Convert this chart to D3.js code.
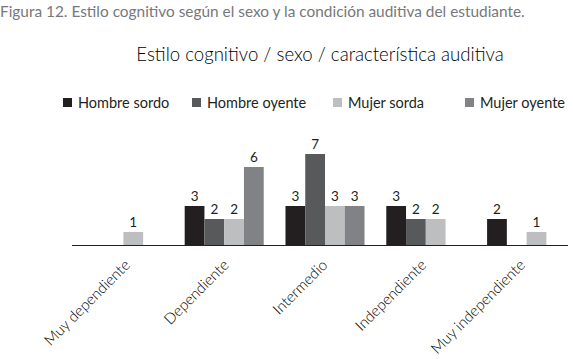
<!DOCTYPE html>
<html><head><meta charset="utf-8">
<script src="https://cdn.jsdelivr.net/npm/d3@7"></script>
<style>body{margin:0;background:#fff}svg{display:block}</style>
</head><body>
<script>
const categories = ["Muy dependiente","Dependiente","Intermedio","Independiente","Muy independiente"];
const seriesNames = ["Hombre sordo","Hombre oyente","Mujer sorda","Mujer oyente"];
const hombreSordo  = [0,3,3,3,2];
const hombreOyente = [0,2,7,2,0];
const mujerSorda   = [1,2,3,2,1];
const mujerOyente  = [0,6,3,0,0];
const colors = ["#231f20","#58595b","#bcbec0","#808285"];
const series = [hombreSordo, hombreOyente, mujerSorda, mujerOyente];

const W=573,H=359;
const svg=d3.select("body").append("svg").attr("width",W).attr("height",H);
const font="Lato, 'Open Sans', sans-serif";

svg.append("text").attr("x",0).attr("y",17).attr("font-family",font).attr("font-size",15.4)
  .attr("fill","#77787b").text("Figura 12. Estilo cognitivo según el sexo y la condición auditiva del estudiante.");
svg.append("text").attr("x",320).attr("y",61).attr("text-anchor","middle").attr("font-family",font)
  .attr("font-size",18.6).attr("font-weight",300).attr("fill","#000").text("Estilo cognitivo / sexo / característica auditiva");

const x=d3.scaleBand().domain(categories).range([73,577]).paddingInner(0.216).paddingOuter(0.108);
const xi=d3.scaleBand().domain(seriesNames).range([0,x.bandwidth()]);
const y=d3.scaleLinear().domain([0,7]).range([245,154]);
const xl=d3.scalePoint().domain(categories).range([131,526]);

// legend
const legX=[63,192,333,465];
const leg=svg.append("g");
seriesNames.forEach((s,i)=>{
  leg.append("rect").attr("x",legX[i]).attr("y",98).attr("width",9).attr("height",9).attr("fill",colors[i]);
  leg.append("text").attr("x",legX[i]+15).attr("y",107.5).attr("font-family",font).attr("font-size",14.5)
    .attr("fill","#231f20").text(s);
});

const g=svg.append("g");
categories.forEach((c,ci)=>{
  series.forEach((arr,si)=>{
    const v=arr[ci]; if(!v) return;
    g.append("rect").attr("x",x(c)+xi(seriesNames[si])).attr("y",y(v))
      .attr("width",xi.bandwidth()).attr("height",y(0)-y(v)).attr("fill",colors[si]);
    g.append("text").attr("x",x(c)+xi(seriesNames[si])+xi.bandwidth()/2).attr("y",y(v)-5)
      .attr("text-anchor","middle").attr("font-family",font).attr("font-size",13.5).attr("fill","#231f20").text(v);
  });
});

svg.append("line").attr("x1",72).attr("x2",568).attr("y1",245.5).attr("y2",245.5).attr("stroke","#231f20").attr("stroke-width",1);

const ax=svg.append("g");
categories.forEach(c=>{
  ax.append("text").attr("transform",`translate(${xl(c)},266) rotate(-45)`).attr("text-anchor","end")
    .attr("font-family",font).attr("font-size",15).attr("font-weight",300).attr("fill","#000").text(c);
});
</script>
</body></html>
